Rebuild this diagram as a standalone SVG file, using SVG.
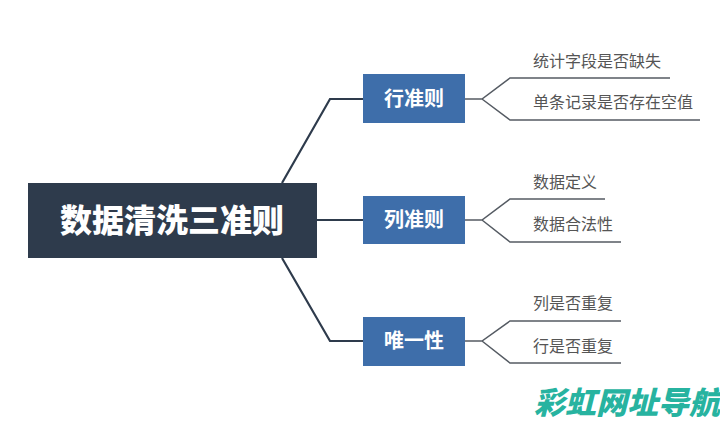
<svg xmlns="http://www.w3.org/2000/svg" width="720" height="424" viewBox="0 0 720 424">
<style>
.cjk{font-family:"Noto Sans CJK SC","Noto Sans",sans-serif}
.root{fill:#2e3b4c}
.rt{fill:#fff;font-size:32px;font-weight:900;text-anchor:middle}
.box{fill:#3e6eaa}
.bt{fill:#fff;font-size:20px;font-weight:700;text-anchor:middle}
.leaf{fill:#555;font-size:16px}
.main{fill:none;stroke:#2e3b4c;stroke-width:2.2}
.sub{fill:none;stroke:#555b63;stroke-width:1.5}
.wm{fill:#27b3a0;font-size:31px;font-weight:900;font-style:italic}
</style>
<rect width="720" height="424" fill="#fff"/>
<g id="connectors">
<path class="main" d="M282,183 L330,99 H363"/>
<path class="main" d="M317,220 H363"/>
<path class="main" d="M282,258 L330,341 H363"/>
<path class="sub" d="M465,99 H482 L510,78 H670 M482,99 L510,120 H700"/>
<path class="sub" d="M465,220 H482 L510,199 H605 M482,220 L510,242 H621"/>
<path class="sub" d="M465,341 H482 L510,321 H621 M482,341 L510,363 H621"/>
</g>
<g id="root">
<rect class="root" x="28" y="183" width="289" height="75"/>
<text class="rt cjk" x="172" y="232">数据清洗三准则</text>
</g>
<g id="row">
<rect class="box" x="363" y="74" width="102" height="49"/>
<text class="bt cjk" x="414" y="106">行准则</text>
</g>
<g id="col">
<rect class="box" x="363" y="196" width="102" height="48"/>
<text class="bt cjk" x="414" y="227">列准则</text>
</g>
<g id="uniq">
<rect class="box" x="363" y="317" width="102" height="49"/>
<text class="bt cjk" x="414" y="348">唯一性</text>
</g>
<g id="leaf1"><text class="leaf cjk" x="533" y="67">统计字段是否缺失</text></g>
<g id="leaf2"><text class="leaf cjk" x="533" y="108">单条记录是否存在空值</text></g>
<g id="leaf3"><text class="leaf cjk" x="533" y="188">数据定义</text></g>
<g id="leaf4"><text class="leaf cjk" x="533" y="230">数据合法性</text></g>
<g id="leaf5"><text class="leaf cjk" x="533" y="309">列是否重复</text></g>
<g id="leaf6"><text class="leaf cjk" x="533" y="352">行是否重复</text></g>
<text class="wm cjk" x="534" y="414">彩虹网址导航</text>
</svg>
